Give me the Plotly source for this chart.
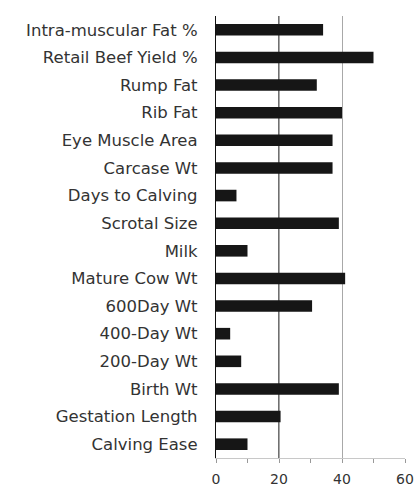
import plotly.graph_objects as go

traits = ["Intra-muscular Fat %", "Retail Beef Yield %", "Rump Fat", "Rib Fat",
          "Eye Muscle Area", "Carcase Wt", "Days to Calving", "Scrotal Size",
          "Milk", "Mature Cow Wt", "600Day Wt", "400-Day Wt", "200-Day Wt",
          "Birth Wt", "Gestation Length", "Calving Ease"]
values = [34, 50, 32, 40, 37, 37, 6.5, 39, 10, 41, 30.5, 4.5, 8, 39, 20.5, 10]
x_ticks = [0, 20, 40, 60]

fig = go.Figure(go.Bar(
    x=values, y=traits, orientation="h",
    marker=dict(color="#161616", line=dict(width=0)),
))

fig.add_shape(type="line", xref="x", yref="paper", x0=20, x1=20, y0=0, y1=1,
              line=dict(color="#111111", width=1.2), layer="below")

fig.update_layout(
    width=416, height=486,
    margin=dict(l=216, r=11, t=16, b=28),
    plot_bgcolor="white", paper_bgcolor="white",
    showlegend=False,
    bargap=0.58,
    font=dict(family="DejaVu Sans", color="#333333"),
)
fig.update_xaxes(
    range=[0, 60], tickvals=x_ticks, ticktext=[str(v) for v in x_ticks],
    showgrid=True, gridcolor="#a8a8a8", gridwidth=1.2,
    zeroline=False, showline=True, linecolor="#c8c8c8", linewidth=1,
    ticks="outside", ticklen=4, tickcolor="#999999",
    minor=dict(dtick=10, ticks="outside", ticklen=4, tickcolor="#999999", showgrid=False),
    tickfont=dict(size=14, color="#333333"),
    ticklabelstandoff=4,
    automargin=False,
    fixedrange=True,
)
fig.update_yaxes(
    autorange="reversed", showgrid=False, zeroline=False,
    showline=True, linecolor="#111111", linewidth=1.2,
    ticks="", ticklabelstandoff=14,
    tickfont=dict(size=16.5, color="#333333"),
    automargin=False,
    fixedrange=True,
)

fig.write_html("out.html", config={"displayModeBar": False},
               post_script="document.body.style.margin='0';document.body.style.overflow='hidden';")
